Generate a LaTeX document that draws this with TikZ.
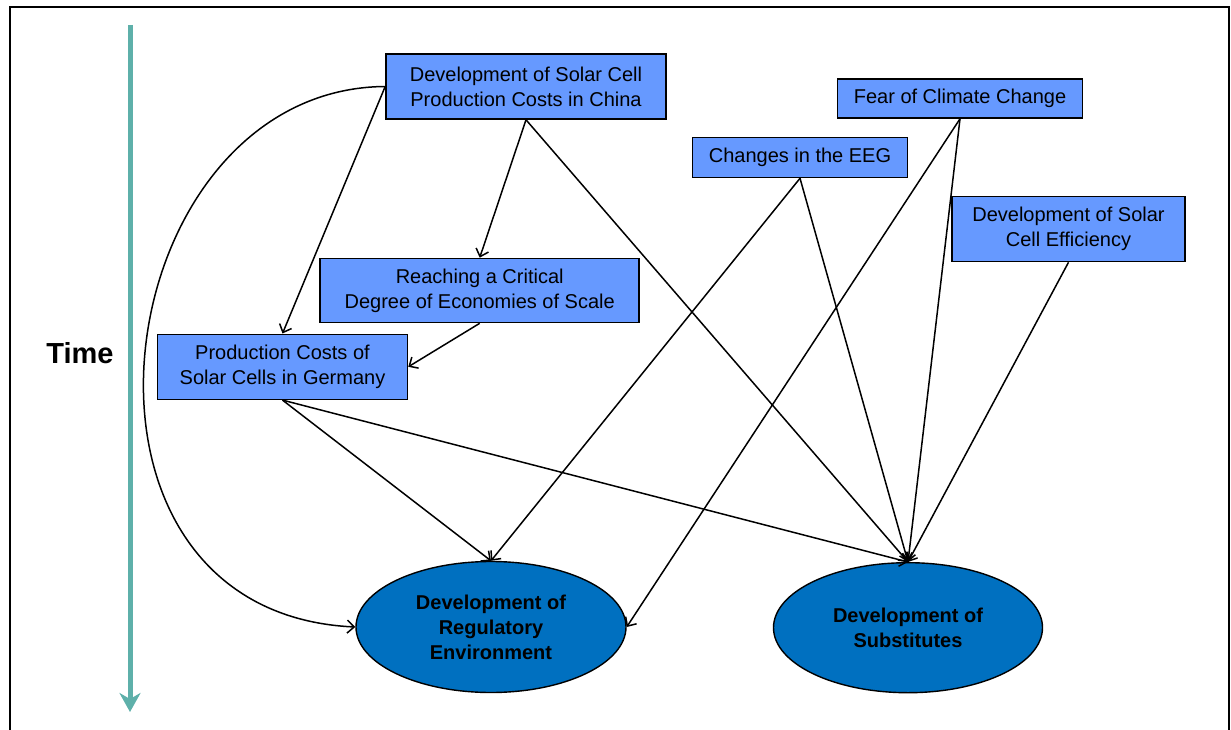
\documentclass[tikz,border=0pt]{standalone}
\usepackage{fontspec}
\setmainfont{Liberation Sans}
\usetikzlibrary{arrows.meta,shapes.geometric}
\definecolor{boxblue}{RGB}{102,153,255}
\definecolor{ovalblue}{RGB}{0,112,192}
\definecolor{timeteal}{RGB}{94,176,170}

\begin{document}
\begin{tikzpicture}[x=1pt,y=-1pt,
  factor/.style={draw=black, line width=1.6pt, fill=boxblue, align=center,
    inner sep=0pt, font=\fontsize{20}{25}\selectfont},
  outcome/.style={ellipse, draw=black, line width=1.4pt, fill=ovalblue, align=center,
    inner sep=0pt, font=\bfseries\fontsize{20}{25}\selectfont},
  conn/.style={draw=black, line width=1.5pt, -{Straight Barb[length=7pt,width=13pt]}}]

\useasboundingbox (0,0) rectangle (1231,730);

% open frame
\draw[line width=2pt] (10,730) -- (10,7) -- (1229,7) -- (1229,730);

% time axis
\coordinate (ttop) at (130,25);
\coordinate (tbot) at (130,712);
\draw[timeteal, line width=5pt, -{Stealth[length=19pt,width=21pt,inset=6pt]}] (ttop) -- (tbot);
\node[font=\bfseries\fontsize{29}{30}\selectfont] (time) at (80,353) {Time};

% influencing factors
\node[factor, minimum width=280pt, minimum height=65pt] (china) at (526,86.5)
  {Development of Solar Cell\\Production Costs in China};
\node[factor, minimum width=245pt, minimum height=39pt] (fear) at (960,98.5)
  {Fear of Climate Change};
\node[factor, minimum width=215pt, minimum height=40pt] (eeg) at (800,157.5)
  {Changes in the EEG};
\node[factor, minimum width=233pt, minimum height=65pt] (eff) at (1068.5,229)
  {Development of Solar\\Cell Efficiency};
\node[factor, minimum width=319pt, minimum height=64pt] (reach) at (479.7,290.5)
  {Reaching a Critical\\Degree of Economies of Scale};
\node[factor, minimum width=250pt, minimum height=65pt] (germ) at (282.5,366.8)
  {Production Costs of\\Solar Cells in Germany};

% outcomes
\node[outcome, minimum width=270pt, minimum height=131pt] (reg) at (491,627)
  {Development of\\Regulatory\\Environment};
\node[outcome, minimum width=269pt, minimum height=130pt] (sub) at (908,627.7)
  {Development of\\Substitutes};

% influences
\draw[conn] (china.west) .. controls +(-280,2) and +(-320,-15) .. (reg.west);
\draw[conn] (china.west) -- (germ.north);
\draw[conn] (china.south) -- (reach.north);
\draw[conn] (china.south) -- (sub.north);
\draw[conn] (reach.south) -- (germ.east);
\draw[conn] (germ.south) -- (reg.north);
\draw[conn] (germ.south) -- (sub.north);
\draw[conn] (eeg.south) -- (reg.north);
\draw[conn] (eeg.south) -- (sub.north);
\draw[conn] (fear.south) -- (reg.east);
\draw[conn] (fear.south) -- (sub.north);
\draw[conn] (eff.south) -- (sub.north);
\end{tikzpicture}
\end{document}
